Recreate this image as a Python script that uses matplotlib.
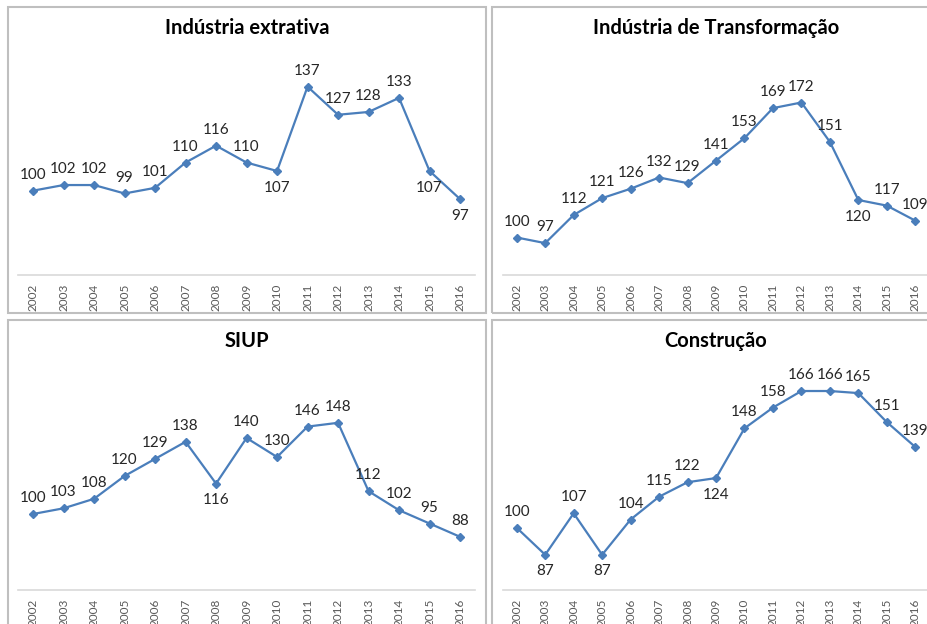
import matplotlib
matplotlib.use('Agg')
import matplotlib.pyplot as plt
from matplotlib.patches import Rectangle

plt.rcParams['font.family'] = ['Lato', 'DejaVu Sans']

years = list(range(2002, 2017))

extrativa = [100, 102, 102, 99, 101, 110, 116, 110, 107, 137, 127, 128, 133, 107, 97]
transformacao = [100, 97, 112, 121, 126, 132, 129, 141, 153, 169, 172, 151, 120, 117, 109]
siup = [100, 103, 108, 120, 129, 138, 116, 140, 130, 146, 148, 112, 102, 95, 88]
construcao = [100, 87, 107, 87, 104, 115, 122, 124, 148, 158, 166, 166, 165, 151, 139]

titles = ['Indústria extrativa', 'Indústria de Transformação', 'SIUP', 'Construção']

# where each data label sits: 'a' above the point, 'b' below
label_pos = [
    'aaaaaaaabaaaabb',
    'aaaaaaaaaaaabaa',
    'aaaaaabaaaaaaaa',
    'ababaaabaaaaaaa',
]

W, H = 928, 624
fig = plt.figure(figsize=(W / 100, H / 100), dpi=100)


def box(x0, y0, x1, y1):
    # pixel box (top-left origin) -> figure fraction rect
    return [x0 / W, 1 - y1 / H, (x1 - x0) / W, (y1 - y0) / H]


panels = [(8, 7, 486, 313), (492, 7, 940, 313), (8, 320, 486, 634), (492, 320, 940, 634)]
axes_px = [(17.8, 22, 475.3, 275), (502.5, 50, 929.5, 275),
           (17.8, 362, 475.3, 590), (502.5, 362, 929.5, 590)]
ylims = [(70, 160), (80, 200), (60, 180), (70, 180)]
series = [extrativa, transformacao, siup, construcao]

blue = '#4a7ebb'

for i in range(4):
    px0, py0, px1, py1 = panels[i]
    fig.patches.append(Rectangle((px0 / W, 1 - py1 / H), (px1 - px0) / W, (py1 - py0) / H,
                                 transform=fig.transFigure, fill=False,
                                 edgecolor='#bfbfbf', linewidth=1.5))
    fig.text((px0 + px1) / 2 / W, 1 - (py0 + 21) / H, titles[i], ha='center', va='center',
             fontsize=14.5, fontweight='bold', color='black')

    ax = fig.add_axes(box(*axes_px[i]))
    ax.patch.set_alpha(0)
    vals = series[i]
    ax.plot(years, vals, color=blue, linewidth=1.6, marker='D', markersize=4,
            markerfacecolor=blue, markeredgecolor=blue)
    ax.set_xlim(2001.5, 2016.5)
    ax.set_ylim(*ylims[i])
    for s in ['top', 'right', 'left']:
        ax.spines[s].set_visible(False)
    ax.spines['bottom'].set_color('#d9d9d9')
    ax.spines['bottom'].set_linewidth(1.2)
    ax.set_yticks([])
    ax.set_xticks(years)
    ax.set_xticklabels([str(y) for y in years], rotation=90, fontsize=8.5, color='#595959')
    ax.tick_params(axis='x', length=0, pad=6)
    for x, v, p in zip(years, vals, label_pos[i]):
        dy = 11.5 if p == 'a' else -12
        ax.annotate(str(v), (x, v), xytext=(0, dy), textcoords='offset points',
                    ha='center', va='center', fontsize=11, color='#262626',
                    annotation_clip=False)

fig.savefig('out.png', dpi=100, facecolor='white')
